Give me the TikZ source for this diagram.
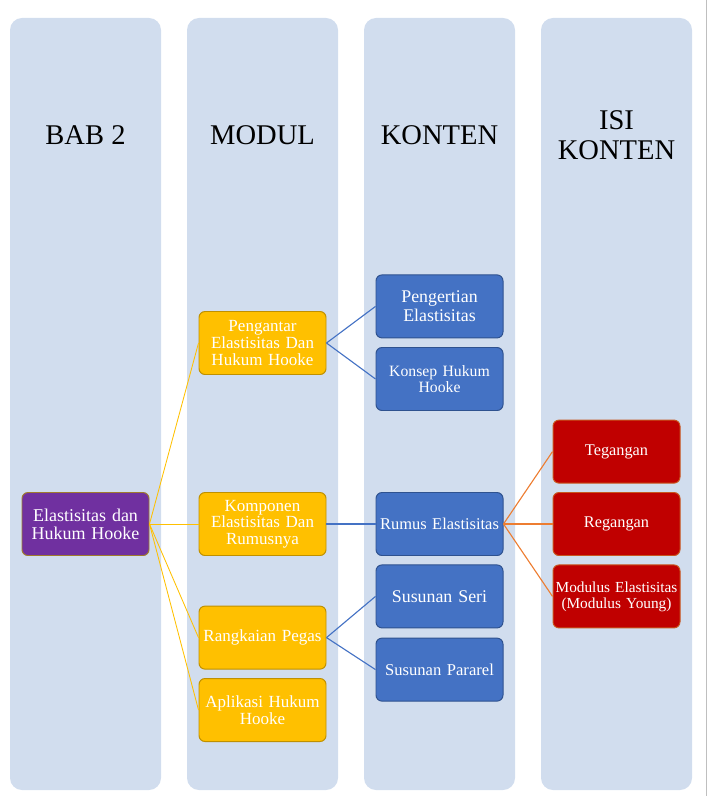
\documentclass[tikz,border=0pt]{standalone}
\usepackage{fontspec}
\setmainfont{Liberation Serif}
\usetikzlibrary{positioning}

\definecolor{colbg}{HTML}{D1DDEE}
\definecolor{rootfill}{HTML}{7030A0}
\definecolor{rootline}{HTML}{A07A2E}
\definecolor{modfill}{HTML}{FFC000}
\definecolor{modline}{HTML}{BF9000}
\definecolor{konfill}{HTML}{4472C4}
\definecolor{konline}{HTML}{2F528F}
\definecolor{isifill}{HTML}{C00000}
\definecolor{isiline}{HTML}{C8561E}
\definecolor{isilink}{HTML}{ED7D31}

\begin{document}
\begin{tikzpicture}[
  column/.style={fill=colbg,rounded corners=0.3cm,minimum width=3.775cm,minimum height=19.3cm,inner sep=0},
  heading/.style={font=\fontsize{20.3}{21.3}\selectfont,align=center},
  box/.style={rounded corners=0.15cm,minimum width=3.175cm,minimum height=1.575cm,
    text width=3.15cm,align=center,inner sep=0,text=white,line width=0.7pt},
  rootbox/.style={box,fill=rootfill,draw=rootline,font=\fontsize{12.8}{12.8}\selectfont},
  modbox/.style={box,fill=modfill,draw=modline,font=\fontsize{12.1}{11.9}\selectfont},
  konbox/.style={box,fill=konfill,draw=konline,font=\fontsize{12.7}{13.5}\selectfont},
  isibox/.style={box,fill=isifill,draw=isiline,font=\fontsize{11.6}{11.4}\selectfont},
  modlink/.style={draw=modfill,line width=0.6pt},
  konlink/.style={draw=konfill,line width=0.8pt},
  isilink/.style={draw=isilink,line width=0.8pt}
]
\useasboundingbox (0,0) rectangle (17.725,-19.9);

%Columns
\node[column] (colbab) at (2.1375,-10.1){};
\node[column] (colmodul) at (6.5625,-10.1){};
\node[column] (colkonten) at (10.9875,-10.1){};
\node[column] (colisi) at (15.4125,-10.1){};
\draw[black!25,line width=0.6pt] (17.65,0) -- (17.65,-19.9);

%Headings
\node[heading] (hbab) at (2.1375,-3.375){BAB 2};
\node[heading] (hmodul) at (6.5625,-3.375){MODUL};
\node[heading] (hkonten) at (10.9875,-3.375){KONTEN};
\node[heading] (hisi) at (15.4125,-3.375){ISI\\KONTEN};

%Bab
\node[rootbox] (root) at (2.1375,-13.1){Elastisitas dan\\Hukum Hooke};

%Modul
\node[modbox] (pengantar) at (6.5625,-8.575){Pengantar\\Elastisitas Dan\\Hukum Hooke};
\node[modbox] (komponen) at (6.5625,-13.1){Komponen\\Elastisitas Dan\\Rumusnya};
\node[modbox] (rangkaian) at (6.5625,-15.94){Rangkaian Pegas};
\node[modbox] (aplikasi) at (6.5625,-17.75){Aplikasi Hukum\\Hooke};

%Konten
\node[konbox] (pengertian) at (10.9875,-7.66){Pengertian\\Elastisitas};
\node[konbox,font=\fontsize{11.2}{11.1}\selectfont] (konsep) at (10.9875,-9.475){Konsep Hukum\\Hooke};
\node[konbox,font=\fontsize{11.7}{11.7}\selectfont] (rumus) at (10.9875,-13.1){Rumus Elastisitas};
\node[konbox] (seri) at (10.9875,-14.91){Susunan Seri};
\node[konbox,font=\fontsize{11.8}{11.8}\selectfont] (pararel) at (10.9875,-16.74){Susunan Pararel};

%Isi konten
\node[isibox] (tegangan) at (15.4125,-11.29){Tegangan};
\node[isibox] (regangan) at (15.4125,-13.1){Regangan};
\node[isibox,font=\fontsize{10.9}{11.4}\selectfont] (modulus) at (15.4125,-14.91){Modulus Elastisitas\\(Modulus Young)};

%Links
\draw[modlink] (root.east) -- (pengantar.west);
\draw[modlink] (root.east) -- (komponen.west);
\draw[modlink] (root.east) -- (rangkaian.west);
\draw[modlink] (root.east) -- (aplikasi.west);

\draw[konlink] (pengantar.east) -- (pengertian.west);
\draw[konlink] (pengantar.east) -- (konsep.west);
\draw[konlink] (komponen.east) -- (rumus.west);
\draw[konlink] (rangkaian.east) -- (seri.west);
\draw[konlink] (rangkaian.east) -- (pararel.west);

\draw[isilink] (rumus.east) -- (tegangan.west);
\draw[isilink] (rumus.east) -- (regangan.west);
\draw[isilink] (rumus.east) -- (modulus.west);

\end{tikzpicture}
\end{document}
